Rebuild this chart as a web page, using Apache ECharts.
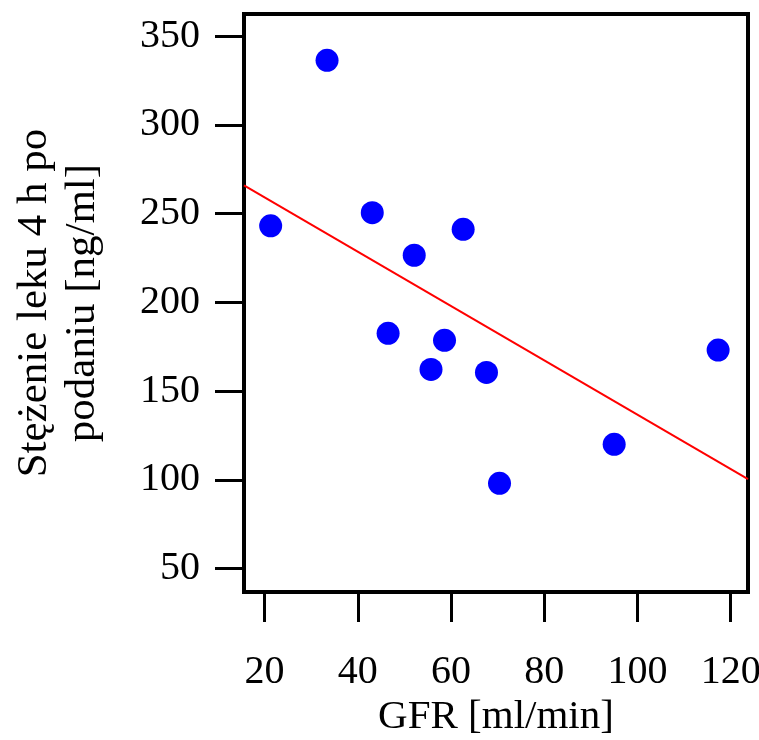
<!DOCTYPE html>
<html>
<head>
<meta charset="utf-8">
<script src="https://cdn.jsdelivr.net/npm/echarts@6/dist/echarts.min.js"></script>
<style>
    html, body { margin: 0; padding: 0; background: #fff; }
    #chart { width: 759px; height: 740px; }
</style>
</head>
<body>
<div id="chart"></div>
<script>
var gfr = [21.3, 33.4, 43.1, 62.6, 52.1, 46.5, 58.6, 55.7, 67.6, 117.3, 95.0, 70.4];
var conc = [243.1, 336.3, 250.5, 241.1, 226.5, 182.5, 178.6, 162.2, 160.5, 173.1, 120.0, 98.0];
// regression line ends, at the plot edges
var fitX = [15.58, 123.71];
var fitY = [265.9, 100.4];
var xTicks = [20, 40, 60, 80, 100, 120];
var yTicks = [50, 100, 150, 200, 250, 300, 350];

var font = 'Liberation Serif';
var chart = echarts.init(document.getElementById('chart'));

var points = gfr.map(function (x, i) { return [x, conc[i]]; });
var fit = fitX.map(function (x, i) { return [x, fitY[i]]; });

var option = {
    animation: false,
    backgroundColor: '#fff',
    grid: {
        left: 244, top: 14, right: 11, bottom: 148,
        outerBoundsMode: 'none',
        containLabel: false,
        show: true,
        borderColor: '#000',
        borderWidth: 4
    },
    xAxis: {
        type: 'value',
        min: 15.58,
        max: 123.71,
        name: 'GFR [ml/min]',
        nameLocation: 'middle',
        nameGap: 102,
        nameTextStyle: { fontFamily: font, fontSize: 41, color: '#000' },
        axisLine: { show: false },
        splitLine: { show: false },
        axisTick: {
            show: true, inside: false, length: 30,
            customValues: xTicks,
            lineStyle: { color: '#000', width: 3 }
        },
        axisLabel: {
            customValues: xTicks,
            margin: 60,
            fontFamily: font, fontSize: 40, color: '#000'
        }
    },
    yAxis: {
        type: 'value',
        min: 36.8,
        max: 362.4,
        name: 'Stężenie leku 4 h po\npodaniu [ng/ml]',
        nameLocation: 'middle',
        nameGap: 137,
        nameRotate: 90,
        nameTextStyle: { fontFamily: font, fontSize: 43, lineHeight: 48, color: '#000' },
        axisLine: { show: false },
        splitLine: { show: false },
        axisTick: {
            show: true, inside: false, length: 29,
            customValues: yTicks,
            lineStyle: { color: '#000', width: 3 }
        },
        axisLabel: {
            customValues: yTicks,
            margin: 44,
            fontFamily: font, fontSize: 40, color: '#000'
        }
    },
    series: [
        {
            type: 'line',
            data: fit,
            showSymbol: false,
            symbol: 'none',
            lineStyle: { color: '#ff0000', width: 2 },
            silent: true
        },
        {
            type: 'scatter',
            data: points,
            symbol: 'circle',
            symbolSize: 23,
            itemStyle: { color: '#0000ff', opacity: 1 }
        }
    ]
};
chart.setOption(option);
window.onresize = chart.resize;
</script>
</body>
</html>
